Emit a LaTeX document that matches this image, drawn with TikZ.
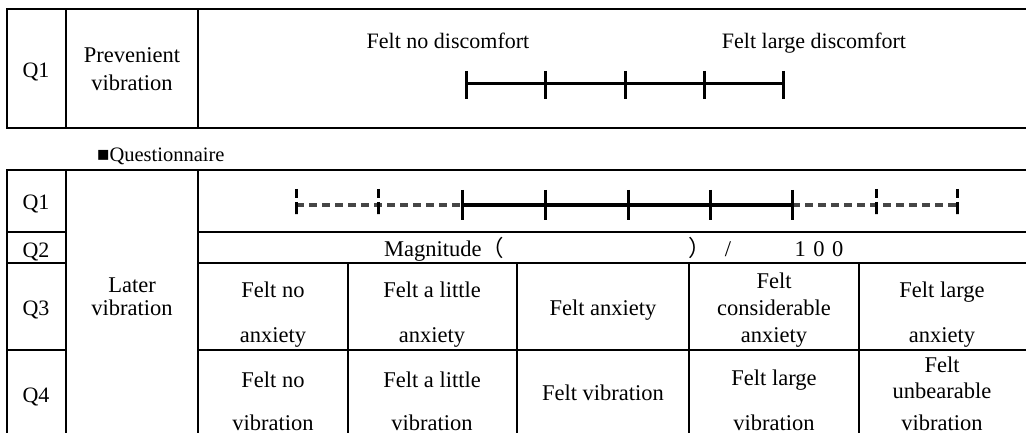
\documentclass[tikz,border=0pt]{standalone}
\usepackage{fontspec}
\setmainfont{Liberation Serif}
\newfontfamily\cjkfont{Noto Sans CJK JP}
\begin{document}
\begin{tikzpicture}[x=1pt,y=-1pt,
  rule/.style={line width=2.6pt,line cap=rect},
  scaleline/.style={line width=3pt},
  dashline/.style={line width=3pt,gray!55!black,dash pattern=on 8pt off 5pt},
  dashtick/.style={line width=3pt,dash pattern=on 9pt off 4pt on 12pt off 0pt},
  lbl/.style={inner sep=0pt,anchor=base,font=\fontsize{22.5}{27}\selectfont},
  qlbl/.style={inner sep=0pt,anchor=base,font=\fontsize{22}{26}\selectfont},
  small/.style={inner sep=0pt,anchor=base,font=\fontsize{22}{26}\selectfont},
  captext/.style={inner sep=0pt,anchor=base west,font=\fontsize{20.5}{24}\selectfont}]
\useasboundingbox (0,0) rectangle (1026,433);
% ---------- top table ----------
\draw[rule] (7,9) -- (1026,9);
\draw[rule] (7,128) -- (1026,128);
\draw[rule] (7,9) -- (7,128);
\draw[rule] (66,9) -- (66,128);
\draw[rule] (198,9) -- (198,128);
\node[qlbl] (tq1) at (36,78) {Q1};
\node[lbl] (tprev1) at (132,63) {Prevenient};
\node[lbl] (tprev2) at (132,91) {vibration};
\node[small] (tno) at (448,49) {Felt no discomfort};
\node[small] (tlarge) at (814,49) {Felt large discomfort};
\foreach \i/\x in {1/466,2/545,3/625,4/704,5/783}{
  \coordinate (tt\i) at (\x,84);
  \draw[scaleline] (\x,71) -- (\x,99);
}
\draw[scaleline] (tt1) -- (tt5);
% ---------- caption ----------
\node[captext] (quest) at (97,161) {■Questionnaire};
% ---------- bottom table ----------
\draw[rule] (7,170) -- (1026,170);
\foreach \y in {232,263,350}{
  \draw[rule] (7,\y) -- (66,\y);
  \draw[rule] (198,\y) -- (1026,\y);
}
\foreach \x in {7,66,198}{\draw[rule] (\x,170) -- (\x,436);}
\foreach \x in {348,517,689,859}{\draw[rule] (\x,263) -- (\x,436);}
\node[qlbl] (bq1) at (36,210) {Q1};
\node[qlbl] (bq2) at (36,257) {Q2};
\node[qlbl] (bq3) at (36,315) {Q3};
\node[qlbl] (bq4) at (36,402) {Q4};
\node[lbl] (later1) at (132,292) {Later};
\node[lbl] (later2) at (132,315) {vibration};
% Q1 scale
\foreach \i/\x in {1/296,2/378,3/462,4/545,5/628,6/710,7/792,8/876,9/957}{
  \coordinate (s\i) at (\x,205);
}
\draw[dashline] (s1) -- (s3);
\draw[dashline] (s7) -- (s9);
\draw[scaleline] (s3) -- (s7);
\foreach \x in {462,545,628,710,792}{\draw[scaleline] (\x,190) -- (\x,220);}
\foreach \x in {296,378,876,957}{\draw[dashtick] (\x,189) -- (\x,214);}
% Q2
\node[lbl,anchor=base west] (mag) at (384,256) {Magnitude{\cjkfont （}};
\node[lbl] (rpar) at (700,256) {{\cjkfont ）}};
\node[lbl] (slash) at (728,256) {/};
\node[lbl] (hund) at (819,256) {1\,\,0\,\,0};
% Q3
\node[lbl] (a1a) at (273,297) {Felt no};
\node[lbl] (a1b) at (273,342) {anxiety};
\node[lbl] (a2a) at (432,297) {Felt a little};
\node[lbl] (a2b) at (432,342) {anxiety};
\node[lbl] (a3) at (603,315) {Felt anxiety};
\node[lbl] (a4a) at (774,288) {Felt};
\node[lbl] (a4b) at (774,315) {considerable};
\node[lbl] (a4c) at (774,342) {anxiety};
\node[lbl] (a5a) at (942,297) {Felt large};
\node[lbl] (a5b) at (942,342) {anxiety};
% Q4
\node[lbl] (v1a) at (273,387) {Felt no};
\node[lbl] (v1b) at (273,430) {vibration};
\node[lbl] (v2a) at (432,387) {Felt a little};
\node[lbl] (v2b) at (432,430) {vibration};
\node[lbl] (v3) at (603,400) {Felt vibration};
\node[lbl] (v4a) at (774,385) {Felt large};
\node[lbl] (v4b) at (774,430) {vibration};
\node[lbl] (v5a) at (942,372) {Felt};
\node[lbl] (v5b) at (942,398) {unbearable};
\node[lbl] (v5c) at (942,430) {vibration};
\end{tikzpicture}
\end{document}
